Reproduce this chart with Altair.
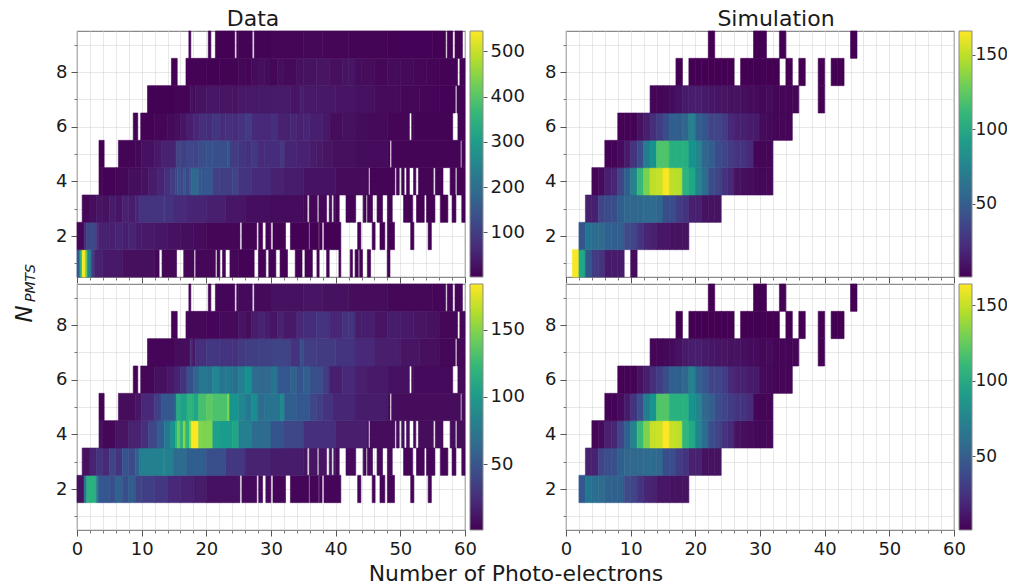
import altair as alt
import pandas as pd

# ---- Data panels: [start, end, count] spans per N_PMTS row, and empty x-ranges ----
DATA_ROW_1 = [[0, .45, 150], [.45, .8, 350], [.8, 1.3, 545], [1.3, 1.6, 430], [1.6, 2.2, 250], [2.2, 2.7, 100],
              [2.7, 4, 50], [4, 7, 35], [7, 12, 20], [12, 25, 10], [25, 48.4, 4]]
DATA_GAPS_1 = [[12.7, 13.15], [15.4, 16.5], [18.1, 18.35], [21.4, 21.65], [22.1, 22.5], [22.95, 23.65], [27.4, 28.05],
               [29.2, 29.65], [30.75, 31.4], [32.55, 33.75], [34.8, 35.25], [36.4, 37.1], [37.45, 38.6], [39, 40.5],
               [40.8, 42.25], [42.6, 43], [43.5, 43.7], [44.15, 44.9], [45.4, 47.97]]
DATA_ROW_2 = [[0, 1.1, 8], [1.1, 1.5, 70], [1.5, 3, 118], [3, 3.3, 80], [3.3, 5, 50], [5, 6, 45], [6, 7, 58], [7, 8, 45],
              [8, 9, 55], [9, 10, 38], [10, 12, 35], [12, 14, 30], [14, 16, 22], [16, 18, 18], [18, 20, 14], [20, 25.5, 8],
              [25.5, 30.3, 5], [30.3, 54.8, 3]]
DATA_GAPS_2 = [[25.2, 25.5], [27.8, 28.1], [28.7, 29.2], [29.98, 30.3], [32.25, 33], [35.86, 36], [37.35, 37.45],
               [37.9, 38.2], [40.8, 43.4], [43.9, 45.65], [46.1, 46.85], [47.6, 48], [49.1, 51.6], [52.1, 54.3]]
DATA_ROW_3 = [[.8, 2, 8], [2, 3, 18], [3, 4, 28], [4, 5, 22], [5, 6, 38], [6, 7, 28], [7, 8, 48], [8, 9, 42], [9, 9.7, 58],
              [9.7, 13.3, 80], [13.3, 13.5, 95], [13.5, 15, 80], [15, 17, 65], [17, 20, 55], [20, 23, 45], [23, 26, 30],
              [26, 30, 18], [30, 35, 14], [35, 40, 10], [40, 50, 5], [50, 60, 3]]
DATA_GAPS_3 = [[35.6, 35.9], [37.15, 37.4], [38.6, 39], [39.4, 39.7], [40.55, 41.6], [43.1, 44.25], [44.7, 44.9],
               [45.7, 46.4], [47.25, 48], [48.75, 50.5], [51.9, 52.5], [53.7, 54.05], [55.35, 56.2], [57.35, 58],
               [58.6, 59.5]]
DATA_ROW_4 = [[3.4, 4, 8], [4, 6, 4], [6, 8, 10], [8, 10, 18], [10, 11, 25], [11, 12.5, 40], [12.5, 13.5, 55],
              [13.5, 14.5, 75], [14.5, 15.2, 95], [15.2, 15.5, 115], [15.5, 16, 140], [16, 16.4, 115], [16.4, 16.8, 150],
              [16.8, 17.4, 120], [17.4, 17.7, 150], [17.7, 18.8, 184], [18.8, 19.3, 150], [19.3, 21, 148], [21, 22, 105],
              [22, 24, 100], [24, 25, 110], [25, 27, 80], [27, 30, 65], [30, 32, 48], [32, 35, 40], [35, 40, 25],
              [40, 45, 15], [45, 60, 6]]
DATA_GAPS_4 = [[45.04, 45.3], [49.16, 49.4], [49.83, 50.2], [50.6, 50.96], [51.4, 52.05], [52.4, 52.8], [55.1, 55.4],
               [56.6, 57.7], [58.5, 58.75]]
DATA_ROW_5 = [[3.4, 4.2, 2], [6.4, 9, 6], [9, 10, 10], [10, 12, 22], [12, 13, 35], [13, 15, 50], [15, 15.4, 60],
              [15.4, 16, 115], [16, 17, 105], [17, 18, 120], [18, 18.8, 110], [18.8, 20, 130], [20, 21, 138],
              [21, 23.3, 132], [23.3, 23.6, 150], [23.6, 25, 95], [25, 26, 85], [26, 27, 75], [27, 28, 90], [28, 29, 65],
              [29, 31.4, 70], [31.4, 32.1, 88], [32.1, 34, 55], [34, 36, 50], [36, 37, 40], [37, 38, 35], [38, 39.5, 28],
              [39.5, 43, 20], [43, 48, 14], [48, 60, 6]]
DATA_GAPS_5 = [[48.4, 48.65], [59.3, 59.5]]
DATA_ROW_6 = [[8.7, 9.4, 2], [9.85, 12, 4], [12, 14, 8], [14, 15, 12], [15, 16, 18], [16, 17, 28], [17, 18, 45], [18, 19, 60],
              [19, 20, 75], [20, 21, 70], [21, 22, 85], [22, 23, 70], [23, 24, 75], [24, 25, 68], [25, 26, 80], [26, 27, 92],
              [27, 28, 65], [28, 30, 62], [30, 31, 72], [31, 33, 50], [33, 34, 58], [34, 35, 48], [35, 36, 56], [36, 38, 45],
              [38, 39, 35], [39, 41, 16], [41, 43, 22], [43, 45, 15], [45, 48, 12], [48, 52, 8], [52, 60, 5]]
DATA_GAPS_6 = [[51.4, 51.75], [58.1, 58.9]]
DATA_ROW_7 = [[10.9, 15, 3], [15, 17.5, 6], [17.5, 17.8, 25], [17.8, 18.3, 12], [18.3, 20, 25], [20, 22, 30], [22, 24, 28],
              [24, 25, 26], [25, 26, 32], [26, 28, 34], [28, 30, 36], [30, 33, 38], [33, 34.5, 28], [34.5, 35, 45],
              [35, 37, 34], [37, 40, 32], [40, 43, 28], [43, 46, 22], [46, 50, 15], [50, 53, 10], [53, 56, 7], [56, 60, 4]]
DATA_GAPS_7 = [[58.5, 58.75]]
DATA_ROW_8 = [[14.6, 15.5, 2], [16.85, 20, 4], [20, 22, 3], [22, 25, 5], [25, 26, 10], [26, 27, 6], [27, 28, 14], [28, 29, 18],
              [29, 30, 14], [30, 31, 10], [31, 32, 18], [32, 34, 12], [34, 35, 22], [35, 37, 24], [37, 39, 28], [39, 41, 20],
              [41, 42, 26], [42, 43, 28], [43, 44, 14], [44, 46, 16], [46, 48, 10], [48, 50, 14], [50, 52, 12], [52, 54, 10],
              [54, 56, 8], [56, 60, 4]]
DATA_GAPS_8 = [[58.85, 59.2]]
DATA_ROW_9 = [[17.3, 25, 3], [25, 30, 5], [30, 35, 8], [35, 38, 10], [38, 42, 8], [42, 48, 6], [48, 55, 4], [55, 60, 3]]
DATA_GAPS_9 = [[17.6, 20.3], [20.7, 21.4], [24.4, 24.7], [27.1, 27.4], [57, 57.25], [58.1, 58.45], [59.6, 60]]

# ---- Simulation panels: runs of unit-wide bins, (first bin, counts) ----
SIM_ROW_1 = [(1, [165, 100, 45, 30, 25, 12, 12, 12]), (10, [5])]
SIM_ROW_2 = [(2, [45, 65, 60, 58, 52, 50, 50, 38, 35, 25, 18, 15, 10, 10, 8, 8, 8])]
SIM_ROW_3 = [(3, [15, 15, 35, 40, 40, 50, 55, 55, 55, 58, 58, 55, 40, 40, 30, 25, 15, 15, 8, 8, 8])]
SIM_ROW_4 = [(4, [3, 5, 15, 18, 35, 50, 75, 112, 132, 150, 152, 165, 150, 148, 108, 100, 75, 60, 40, 35, 25, 20, 8, 6, 5, 4, 4, 4])]
SIM_ROW_5 = [(6, [2, 2, 5, 12, 25, 40, 70, 85, 120, 120, 105, 105, 105, 85, 75, 55, 50, 40, 35, 30, 25, 25, 20, 3, 3, 3])]
SIM_ROW_6 = [(8, [2, 2, 2, 8, 14, 22, 30, 40, 50, 50, 55, 75, 50, 45, 35, 35, 30, 20, 15, 15, 12, 12, 5, 4, 3, 3, 3])]
SIM_ROW_7 = [(13, [3, 3, 4, 5, 8, 12, 14, 14, 12, 10, 9, 9, 8, 8, 7, 5, 5, 4, 5, 3, 3, 3, 3]), (39, [1])]
SIM_ROW_8 = [(17, [1]), (19, [1, 1, 1, 1, 1, 1, 1]), (27, [1, 1, 1, 2, 1, 1]), (34, [1]), (36, [1]), (39, [1]), (41, [1, 1])]
SIM_ROW_9 = [(22, [1]), (29, [1, 1]), (33, [1]), (44, [1])]

X_MAJOR = [0, 10, 20, 30, 40, 50, 60]
X_MINOR = [0, 2, 4, 6, 8, 10, 12, 14, 16, 18, 20, 22, 24, 26, 28, 30, 32, 34, 36, 38, 40, 42, 44, 46, 48, 50, 52, 54, 56, 58, 60]
Y_MAJOR = [2, 4, 6, 8]
Y_MINOR = [1, 2, 3, 4, 5, 6, 7, 8, 9]
VIRIDIS = ["#440154", "#482878", "#3e4989", "#31688e", "#26828e", "#1f9e89", "#35b779", "#6ece58", "#b5de2b", "#fde725"]

W, H, CB = 388, 246, 13
FONT = "DejaVu Sans"


def cut(spans, gaps):
    out = []
    for a, b, v in spans:
        pieces = [(a, b)]
        for g0, g1 in gaps:
            nxt = []
            for p, q in pieces:
                if g1 <= p or g0 >= q:
                    nxt.append((p, q))
                else:
                    if p < g0:
                        nxt.append((p, g0))
                    if g1 < q:
                        nxt.append((g1, q))
            pieces = nxt
        out += [(p, q, v) for p, q in pieces]
    return out


def data_table(rows):
    recs = []
    for row, spans, gaps in rows:
        for a, b, v in cut(spans, gaps):
            recs.append(dict(x0=a, x1=b, y0=row - .5, y1=row + .5, n=v))
    return pd.DataFrame(recs)


def sim_table(rows):
    recs = []
    for row, runs in rows:
        for first, counts in runs:
            for i, v in enumerate(counts):
                recs.append(dict(x0=first + i, x1=first + i + 1, y0=row - .5, y1=row + .5, n=v))
    return pd.DataFrame(recs)


DATA_COMMON = [(2, DATA_ROW_2, DATA_GAPS_2), (3, DATA_ROW_3, DATA_GAPS_3), (4, DATA_ROW_4, DATA_GAPS_4),
               (5, DATA_ROW_5, DATA_GAPS_5), (6, DATA_ROW_6, DATA_GAPS_6), (7, DATA_ROW_7, DATA_GAPS_7),
               (8, DATA_ROW_8, DATA_GAPS_8), (9, DATA_ROW_9, DATA_GAPS_9)]
SIM_COMMON = [(2, SIM_ROW_2), (3, SIM_ROW_3), (4, SIM_ROW_4), (5, SIM_ROW_5), (6, SIM_ROW_6), (7, SIM_ROW_7),
              (8, SIM_ROW_8), (9, SIM_ROW_9)]

xs = alt.Scale(domain=[0, 60], nice=False, zero=False)
ys = alt.Scale(domain=[.5, 9.5], nice=False, zero=False)


def text_at(s, x, y, size, angle=0, style="normal"):
    return alt.Chart(pd.DataFrame({"t": [s]})).mark_text(
        font=FONT, fontSize=size, fontStyle=style, angle=angle, color="#1a1a1a", align="center", baseline="middle"
    ).encode(text="t:N", x=alt.value(x), y=alt.value(y))


def colorbar(top_value, ticks, size, tick, pad):
    grad = alt.LinearGradient(gradient="linear", x1=0, x2=0, y1=1, y2=0,
                              stops=[alt.GradientStop(color=c, offset=i / (len(VIRIDIS) - 1)) for i, c in enumerate(VIRIDIS)])
    return alt.Chart(pd.DataFrame({"lo": [1], "hi": [top_value]})).mark_rect(
        fill=grad, stroke="#8a8a8a", strokeWidth=1
    ).encode(
        x=alt.value(W + 5), x2=alt.value(W + 5 + CB),
        y=alt.Y("lo:Q", scale=alt.Scale(domain=[1, top_value], nice=False, zero=False),
                axis=alt.Axis(orient="right", offset=5 + CB, values=ticks, tickSize=tick, tickColor="#555", title=None,
                              grid=False, domain=False, labelFont=FONT, labelFontSize=size, labelColor="#1a1a1a",
                              labelPadding=pad, labelFlush=False, labelOverlap=False)),
        y2="hi:Q",
    )


def heat(df, top_value, ticks, show_x, extras=(), cb=(18, 4, 3)):
    color = alt.Scale(domain=[1, top_value], range=VIRIDIS, clamp=True)
    minor = alt.Chart(df).mark_rect(opacity=0).encode(
        x=alt.X("x0:Q", scale=xs, axis=alt.Axis(orient="bottom", values=X_MINOR, labels=False, tickSize=3, tickColor="#777",
                                                title=None, grid=True, gridColor="#d0d0d0", gridDash=[1, 1], domain=False)),
        x2="x1:Q",
        y=alt.Y("y0:Q", scale=ys, axis=alt.Axis(orient="left", values=Y_MINOR, labels=False, tickSize=3, tickColor="#777",
                                                title=None, grid=True, gridColor="#d0d0d0", gridDash=[1, 1], domain=False)),
        y2="y1:Q",
    )
    cells = alt.Chart(df).mark_rect(strokeWidth=0.6).encode(
        x=alt.X("x0:Q", scale=xs, axis=alt.Axis(orient="bottom", values=X_MAJOR, labels=show_x, tickSize=6, tickColor="#555",
                                                title=None, grid=False, domain=False, labelFont=FONT, labelFontSize=18,
                                                labelColor="#1a1a1a", labelPadding=4, labelFlush=False)),
        x2="x1:Q",
        y=alt.Y("y0:Q", scale=ys, axis=alt.Axis(orient="left", values=Y_MAJOR, tickSize=6, tickColor="#555", title=None,
                                                grid=False, domain=False, labelFont=FONT, labelFontSize=18,
                                                labelColor="#1a1a1a", labelPadding=4, labelFlush=False)),
        y2="y1:Q",
        color=alt.Color("n:Q", scale=color, legend=None),
        stroke=alt.Stroke("n:Q", scale=color, legend=None),
    )
    return alt.layer(minor, cells, colorbar(top_value, ticks, *cb), *extras).resolve_scale(y="independent").resolve_axis(
        x="independent", y="independent"
    ).properties(width=W, height=H)


tl = heat(data_table([(1, DATA_ROW_1, DATA_GAPS_1)] + DATA_COMMON), 545, [100, 200, 300, 400, 500], False,
          [text_at("Data", 176, -12, 22)])
tr = heat(sim_table([(1, SIM_ROW_1)] + SIM_COMMON), 166, [50, 100, 150], False,
          [text_at("Simulation", 210, -12, 22)], cb=(17, 3, 0))
bl = heat(data_table(DATA_COMMON), 184, [50, 100, 150], True, [
    text_at("N", -52, 30, 23, angle=270, style="italic"),
    text_at("PMTS", -46, -1, 14, angle=270, style="italic"),
    text_at("Number of Photo-electrons", 439, 290, 21.9),
])
br = heat(sim_table(SIM_COMMON), 164, [50, 100, 150], True, cb=(17, 3, 0))

chart = alt.concat(tl, tr, bl, br, columns=2, spacing={"row": 7, "column": 101}, bounds="flush").resolve_scale(
    color="independent", stroke="independent"
).properties(
    padding={"left": 5, "top": -1, "right": -2, "bottom": 0}
).configure_view(stroke="#8a8a8a", strokeWidth=1.2)

chart.save("out.html", embed_options={"renderer": "svg", "actions": False})
